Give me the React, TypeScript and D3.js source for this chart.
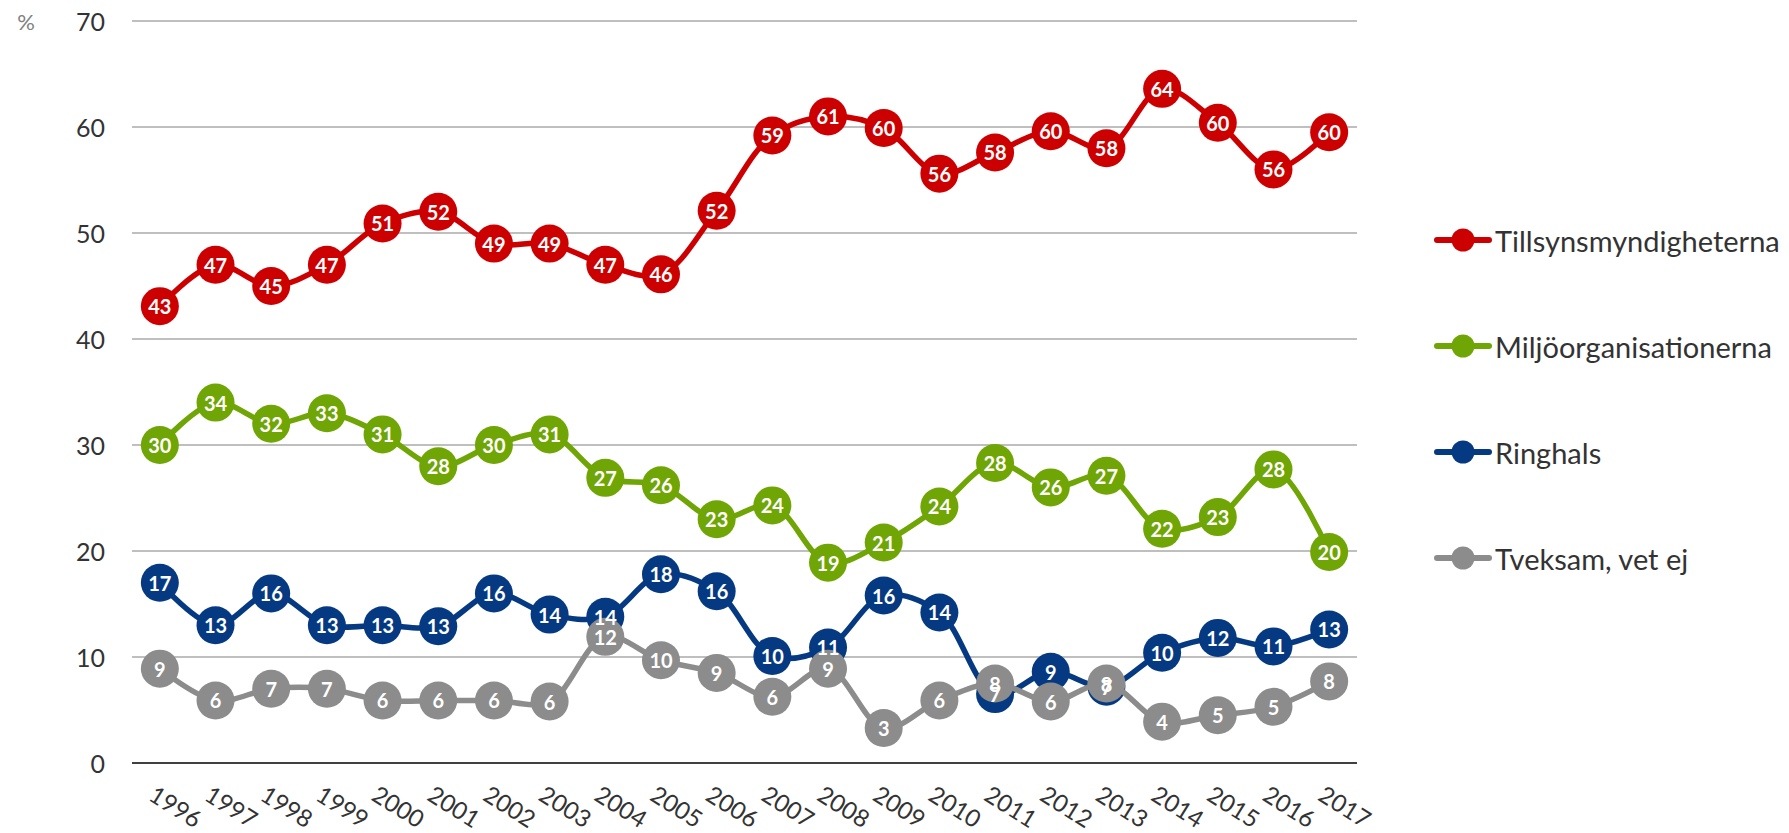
import * as d3 from "d3";

// survey years
const years = [
  "1996", "1997", "1998", "1999", "2000", "2001", "2002", "2003", "2004", "2005", "2006",
  "2007", "2008", "2009", "2010", "2011", "2012", "2013", "2014", "2015", "2016", "2017",
];

// series values (%)
const tillsyn = [43.1, 47, 45, 47, 50.9, 52, 49, 49, 47, 46.1, 52.1, 59.2, 61, 59.9, 55.6, 57.6, 59.6, 58, 63.6, 60.4, 56, 59.5];
const miljo = [30, 34, 32, 33, 31, 28, 30, 31, 26.9, 26.2, 23, 24.3, 18.9, 20.8, 24.2, 28.3, 26, 27.1, 22.1, 23.2, 27.7, 19.9];
const ringhals = [17, 13, 16, 13, 13, 12.9, 16, 14, 13.8, 17.8, 16.2, 10.1, 10.9, 15.8, 14.2, 6.5, 8.6, 7.2, 10.4, 11.8, 11, 12.6];
const tveksam = [8.9, 5.9, 7, 7, 5.9, 5.9, 5.9, 5.8, 11.9, 9.7, 8.5, 6.25, 8.9, 3.3, 5.9, 7.5, 5.8, 7.5, 3.9, 4.5, 5.3, 7.7];

const seriesNames = ["Tillsynsmyndigheterna", "Miljöorganisationerna", "Ringhals", "Tveksam, vet ej"];
const seriesColors = ["#CC0000", "#6FA504", "#053A82", "#8C8C8C"];
const seriesValues = [tillsyn, miljo, ringhals, tveksam];

const yTicks = [0, 10, 20, 30, 40, 50, 60, 70];

const W = 1789;
const H = 833;
const FONT = "Lato, 'Open Sans', sans-serif";

export default function App() {
  const x = d3.scaleBand().domain(years).range([132, 1357]).paddingInner(0).paddingOuter(0);
  const cx = (yr: string) => (x(yr) as number) + x.bandwidth() / 2;
  const y = d3.scaleLinear().domain([0, 70]).range([763, 21]);

  const line = d3
    .line<number>()
    .x((_, i) => cx(years[i]))
    .y((d) => y(d))
    .curve(d3.curveCatmullRom.alpha(0.5));

  const legendY = d3.scalePoint().domain(seriesNames).range([240, 558]);

  return (
    <svg
      width={W}
      height={H}
      style={{ position: "absolute", left: 0, top: 0, display: "block", background: "#fff" }}
      fontFamily={FONT}
    >
      {/* gridlines + y labels */}
      {yTicks.map((t) => (
        <g key={t}>
          <line
            x1={132}
            x2={1357}
            y1={y(t)}
            y2={y(t)}
            stroke={t === 0 ? "#404040" : "#BFBFBF"}
            strokeWidth={t === 0 ? 1.8 : 2}
          />
          <text x={105} y={y(t)} textAnchor="end" dominantBaseline="central" fontSize={25} fill="#333">
            {t}
          </text>
        </g>
      ))}
      <text x={26} y={21} textAnchor="middle" dominantBaseline="central" fontSize={22} fill="#808080">
        %
      </text>

      {/* x labels */}
      {years.map((yr) => (
        <text
          key={yr}
          transform={`translate(${cx(yr) - 3},${784}) rotate(32)`}
          dy="0.75em"
          fontSize={24}
          fill="#333"
        >
          {yr}
        </text>
      ))}

      {/* lines + markers */}
      {seriesValues.map((vals, s) => (
        <g key={seriesNames[s]}>
          <path d={line(vals) || ""} fill="none" stroke={seriesColors[s]} strokeWidth={5.5} strokeLinejoin="round" />
          {vals.map((v, i) => (
            <circle key={i} cx={cx(years[i])} cy={y(v)} r={19} fill={seriesColors[s]} />
          ))}
        </g>
      ))}

      {/* data labels */}
      {seriesValues.map((vals, s) => (
        <g key={"lab" + s}>
          {vals.map((v, i) => (
            <text
              key={i}
              x={cx(years[i])}
              y={y(v)}
              textAnchor="middle"
              dominantBaseline="central"
              fontSize={20}
              fontWeight="bold"
              fill="#fff"
            >
              {Math.round(v)}
            </text>
          ))}
        </g>
      ))}

      {/* legend */}
      {seriesNames.map((name, s) => {
        const ly = legendY(name) as number;
        return (
          <g key={"leg" + name}>
            <line x1={1437} x2={1489} y1={ly} y2={ly} stroke={seriesColors[s]} strokeWidth={6} strokeLinecap="round" />
            <circle cx={1463} cy={ly} r={11.5} fill={seriesColors[s]} />
            <text x={1495} y={ly} dominantBaseline="central" fontSize={29} fill="#333">
              {name}
            </text>
          </g>
        );
      })}
    </svg>
  );
}
